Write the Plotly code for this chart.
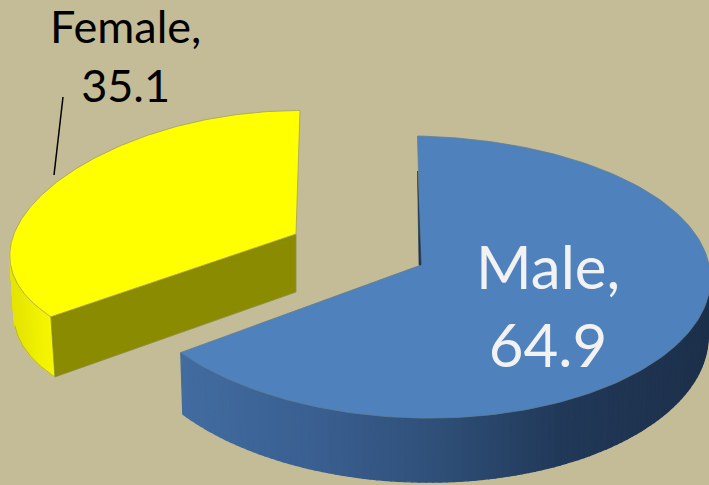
import numpy as np
import plotly.graph_objects as go

categories = ["Male", "Female"]
values = [64.9, 35.1]

BG = "#C4BC96"
W, H = 709, 485
FONT = "Lato"

fig = go.Figure()


def poly(x, y, fill, line=None, lw=1.4):
    fig.add_trace(go.Scatter(
        x=list(x), y=list(y), mode="lines", fill="toself", fillcolor=fill,
        line=dict(color=line or fill, width=lw), hoverinfo="skip", showlegend=False))


def stroke(x, y, color, lw=0.8):
    fig.add_trace(go.Scatter(x=list(x), y=list(y), mode="lines",
                             line=dict(color=color, width=lw),
                             hoverinfo="skip", showlegend=False))


def mix(stops, t):
    pos = [s[0] for s in stops]
    rgb = [np.interp(t, pos, [s[1][i] for s in stops]) for i in range(3)]
    return "rgb(%d,%d,%d)" % tuple(int(round(v)) for v in rgb)


def rim(th, cx, c0, c1, c2, s, a, k):
    x = cx + a * np.sin(th) * (1 - k * np.cos(th))
    y = c0 - c1 * np.cos(th) + c2 * np.cos(th) ** 2 + s * np.sin(th)
    return x, y


sweep = [v / sum(values) * 2 * np.pi for v in values]

# ---- Female slice (runs counter-clockwise from 12 o'clock)
fem = dict(cx=300, c0=240, c1=129.5, c2=0, s=0, a=288, k=0.125)
apex_f = (296, 234)
th_f = np.linspace(0, -sweep[1], 160)
xf, yf = rim(th_f, **fem)
depth_f = 59 + 2 * (-np.cos(th_f))
dx_f = 4 * np.ones_like(th_f)
# outer wall, visible only on the left part
wall_stops = [(0, (226, 226, 0)), (0.6, (232, 232, 0)), (1, (246, 246, 0))]
idx = np.where(th_f <= -np.pi / 2)[0]
for n, (i, j) in enumerate(zip(idx[:-1], idx[1:])):
    poly([xf[i], xf[j], xf[j] + dx_f[j], xf[i] + dx_f[i], xf[i]],
         [yf[i], yf[j], yf[j] + depth_f[j], yf[i] + depth_f[i], yf[i]],
         mix(wall_stops, n / max(len(idx) - 2, 1)),
         lw=1.0)
edge = np.where(th_f <= -np.pi / 2 - 0.2)[0]
stroke(xf[edge] + dx_f[edge], yf[edge] + depth_f[edge], "#A5A060")
# cut face
poly([apex_f[0], xf[-1], xf[-1] + dx_f[-1], apex_f[0], apex_f[0]],
     [apex_f[1], yf[-1], yf[-1] + depth_f[-1], apex_f[1] + 58, apex_f[1]],
     "#8B8B00", "#8A8A50", 0.8)
# top
poly([apex_f[0], *xf, apex_f[0]], [apex_f[1], *yf, apex_f[1]], "#FFFF00", "#A5A060", 0.8)

# ---- Male slice (runs clockwise from 12 o'clock)
mal = dict(cx=417.5, c0=272, c1=141, c2=5, s=6, a=293, k=0.005)
apex_m = (421, 265)
th_m = np.linspace(0, sweep[0], 170)
xm, ym = rim(th_m, **mal)
depth_m = 58 + 6 * (-np.cos(th_m))
dx_m = -2.5 * np.sin(th_m)
wall_stops_m = [(0, (66, 108, 160)), (0.25, (58, 95, 145)), (0.5, (46, 78, 118)),
                (0.72, (33, 56, 88)), (1, (28, 48, 74))]
idx = np.where(th_m >= np.pi / 2 - 0.05)[0]
xmin, xmax = xm[idx].min(), xm[idx].max()
for i, j in zip(idx[:-1], idx[1:]):
    t = ((xm[i] + xm[j]) / 2 - xmin) / (xmax - xmin)
    poly([xm[i], xm[j], xm[j] + dx_m[j], xm[i] + dx_m[i], xm[i]],
         [ym[i], ym[j], ym[j] + depth_m[j], ym[i] + depth_m[i], ym[i]],
         mix(wall_stops_m, t))
# top
poly([apex_m[0], *xm, apex_m[0]], [apex_m[1], *ym, apex_m[1]], "#4F81BD", "#5F7F95", 0.8)
# dark sliver of the inner cut
poly([xm[0], apex_m[0], apex_m[0] - 2, xm[0]],
     [ym[0] + 35, apex_m[1], apex_m[1], ym[0] + 35], "#1F3550", lw=0.6)

# ---- labels
stroke([63, 54], [97, 175], "#000000", 1.5)
fig.add_annotation(x=125, y=55, xref="x", yref="y", showarrow=False,
                   text=f"{categories[1]},<br>{values[1]}",
                   font=dict(family=FONT, size=45, color="#000000"), align="center")
fig.add_annotation(x=548, y=305, xref="x", yref="y", showarrow=False,
                   text=f"{categories[0]},<br>{values[0]}",
                   font=dict(family=FONT, size=60, color="#F2F2F2"), align="center")

fig.update_xaxes(range=[0, W], visible=False, fixedrange=True)
fig.update_yaxes(range=[H, 0], visible=False, fixedrange=True)
fig.update_layout(width=W, height=H, margin=dict(l=0, r=0, t=0, b=0),
                  paper_bgcolor=BG, plot_bgcolor=BG, showlegend=False)
fig.write_html("out.html", config=dict(displayModeBar=False),
               post_script="document.body.style.margin='0';"
                           "document.body.style.background='%s';"
                           "document.documentElement.style.overflow='hidden';" % BG)
